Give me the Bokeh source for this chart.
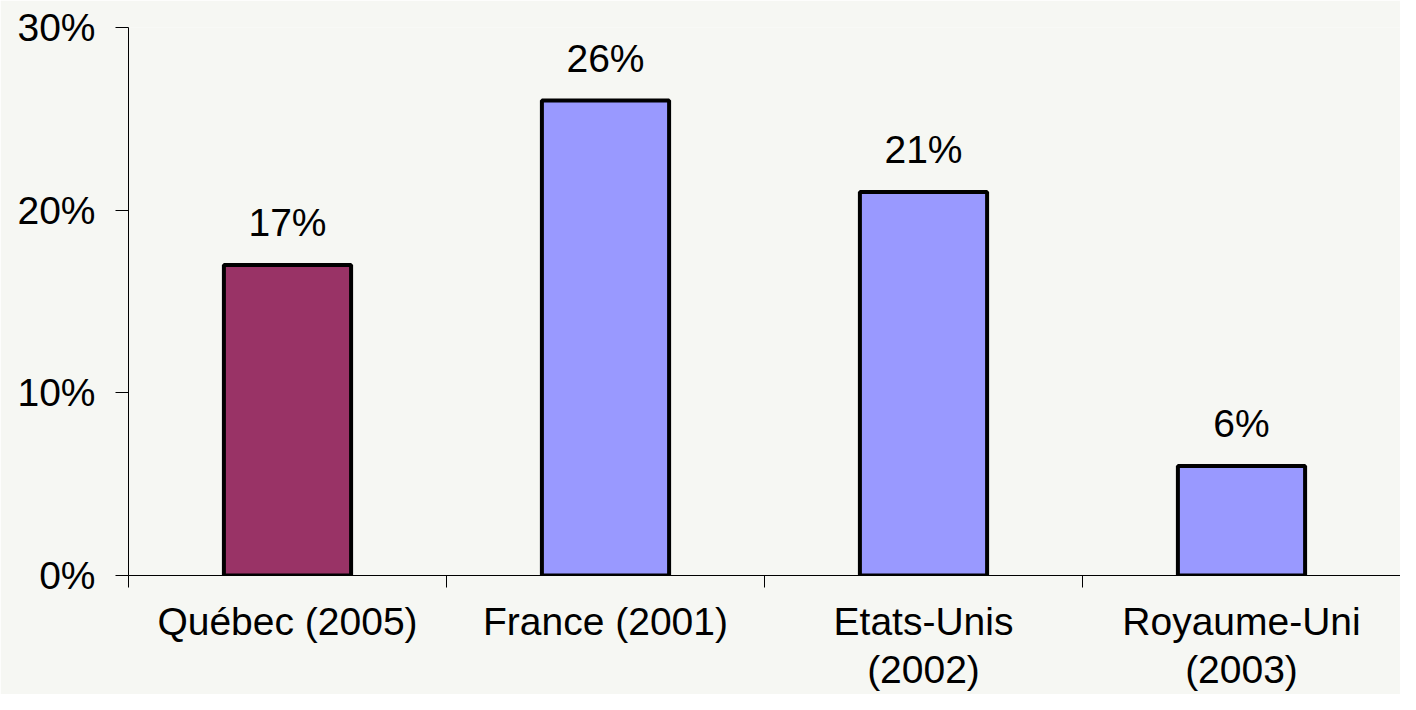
from bokeh.plotting import figure
from bokeh.models import ColumnDataSource, FixedTicker, Range1d, PrintfTickFormatter
from bokeh.embed import file_html
from bokeh.resources import INLINE
from bokeh.core.properties import value

categories = ["Québec (2005)", "France (2001)", "Etats-Unis\n(2002)", "Royaume-Uni\n(2003)"]
values = [17, 26, 21, 6]
colors = ["#993366", "#9999ff", "#9999ff", "#9999ff"]
labels = [f"{v}%" for v in values]
y_ticks = [0, 10, 20, 30]

FONT = "Liberation Sans"
BG = "#f6f7f3"

xs = [i + 0.5 for i in range(len(categories))]
src = ColumnDataSource(dict(x=xs, top=values, color=colors, label=labels))

p = figure(width=1400, height=694, output_backend="svg", toolbar_location=None,
           x_range=Range1d(0, len(categories)), y_range=Range1d(0, 30),
           min_border_left=128, min_border_right=0, min_border_top=27, min_border_bottom=119)
p.background_fill_color = BG
p.border_fill_color = BG
p.outline_line_color = None
p.grid.visible = False

p.vbar(x="x", top="top", width=0.4, bottom=0, fill_color="color",
       line_color="black", line_width=4, source=src)
p.text(x="x", y="top", text="label", source=src, text_align="center",
       text_baseline="alphabetic", y_offset=-42, text_font=value(FONT),
       text_font_size="39px", text_color="black")

# x axis
xa = p.xaxis[0]
xa.ticker = FixedTicker(ticks=xs, minor_ticks=list(range(len(categories) + 1)))
xa.major_label_overrides = {x: c for x, c in zip(xs, categories)}
xa.major_tick_out = 0
xa.major_tick_in = 0
xa.minor_tick_out = 12
xa.minor_tick_in = 0
xa.minor_tick_line_color = "black"
xa.axis_line_color = "black"
xa.major_label_text_font = FONT
xa.major_label_text_font_size = "39px"
xa.major_label_text_color = "black"
xa.major_label_standoff = 12
xa.major_label_text_line_height = 1.12

# y axis
ya = p.yaxis[0]
ya.ticker = FixedTicker(ticks=y_ticks, minor_ticks=[])
ya.formatter = PrintfTickFormatter(format="%d%%")
ya.major_tick_out = 13
ya.major_tick_in = 0
ya.major_tick_line_color = "black"
ya.axis_line_color = "black"
ya.major_label_text_font = FONT
ya.major_label_text_font_size = "39px"
ya.major_label_text_color = "black"
ya.major_label_standoff = 20

open("out.html", "w").write(file_html(p, INLINE))
